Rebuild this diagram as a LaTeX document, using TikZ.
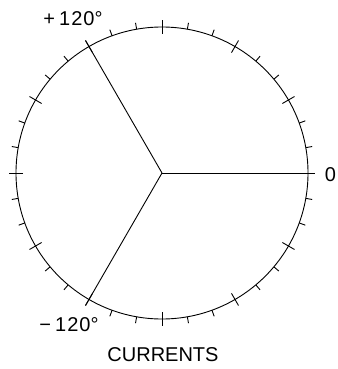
\documentclass[tikz,border=0pt]{standalone}
\usepackage{fontspec}
\setmainfont{Liberation Sans}
\usetikzlibrary{calc}
\begin{document}
\begin{tikzpicture}[x=1pt,y=-1pt,line width=0.9pt,
  lbl/.style={inner sep=0pt,font=\fontsize{20}{20}\selectfont}]
\useasboundingbox (0,0) rectangle (337,369);
\coordinate (O) at (162,173);
\draw (O) circle[radius=146];
\foreach \a in {0,10,...,350}{
  \pgfmathtruncatemacro{\m}{mod(\a,30)}
  \ifnum\m=0
    \draw ($(O)+(-\a:139)$) -- ($(O)+(-\a:153)$);
  \else
    \draw ($(O)+(-\a:146)$) -- ($(O)+(-\a:152.5)$);
  \fi
}
\coordinate (A) at ($(O)+(0:153)$);
\coordinate (B) at ($(O)+(-120:153)$);
\coordinate (C) at ($(O)+(120:153)$);
\draw (O) -- (A);
\draw (O) -- (B);
\draw (O) -- (C);
\node[lbl] (p120) at (73,18.5) {+\kern4pt 1\kern1pt 2\kern1pt 0°};
\node[lbl] (m120) at (69,324.5) {−\kern4pt 1\kern1pt 2\kern1pt 0°};
\node[lbl,anchor=east] (zero) at (336.5,174.5) {0};
\node[lbl] (cur) at (163,354.5) {CURRENTS};
\end{tikzpicture}
\end{document}
